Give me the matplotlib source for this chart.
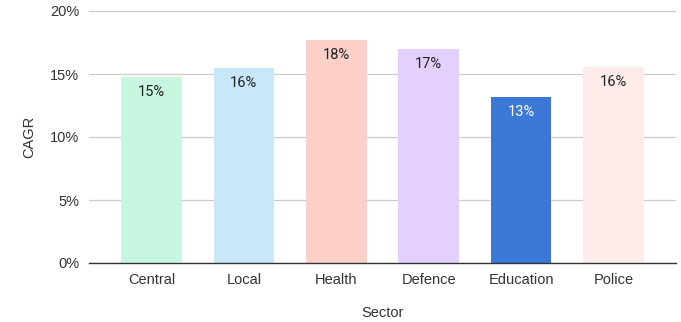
import matplotlib
matplotlib.use("Agg")
import matplotlib.pyplot as plt
from matplotlib.ticker import FuncFormatter

sectors = ["Central", "Local", "Health", "Defence", "Education", "Police"]
cagr = [14.8, 15.45, 17.7, 16.95, 13.2, 15.55]
labels = ["15%", "16%", "18%", "17%", "13%", "16%"]
colors = ["#c8f7e1", "#c9e7fb", "#fdd0c9", "#e3d0fc", "#3c78d8", "#fdecea"]
label_colors = ["#222222", "#222222", "#222222", "#222222", "#ffffff", "#222222"]

plt.rcParams['font.family'] = ['Liberation Sans', 'DejaVu Sans']

fig = plt.figure(figsize=(6.81, 3.22), dpi=100)
ax = fig.add_axes([89/681, 1-263/322, (676-89)/681, (263-11)/322])

x = list(range(len(sectors)))
bars = ax.bar(x, cagr, width=0.655, color=colors, zorder=2)
for xi, v, lab, lc in zip(x, cagr, labels, label_colors):
    ax.annotate(lab, (xi, v), xytext=(0, -15), textcoords="offset pixels",
                ha="center", va="center", fontsize=10.5, color=lc, zorder=3,
                family=['Roboto', 'DejaVu Sans'])

ax.set_xlim(-0.675, 5.675)
ax.set_ylim(0, 20)
ax.set_yticks([0, 5, 10, 15, 20])
ax.yaxis.set_major_formatter(FuncFormatter(lambda v, p: f"{int(v)}%"))
ax.grid(axis="y", color="#cccccc", linewidth=0.9, zorder=0)
ax.set_axisbelow(True)
for s in ["top", "right", "left"]:
    ax.spines[s].set_visible(False)
ax.spines["bottom"].set_color("#333333")
ax.spines["bottom"].set_linewidth(1.0)
ax.spines["bottom"].set_zorder(4)
ax.tick_params(axis="both", length=0, labelsize=10.5, labelcolor="#333333")
ax.tick_params(axis="y", pad=7)
ax.tick_params(axis="x", pad=7)
ax.set_xticks(x)
ax.set_xticklabels(sectors)
ax.set_ylabel("CAGR", fontsize=10.5, color="#333333", labelpad=10)
ax.set_xlabel("Sector", fontsize=10.5, color="#333333", labelpad=14)

fig.savefig("out.png", dpi=100)
